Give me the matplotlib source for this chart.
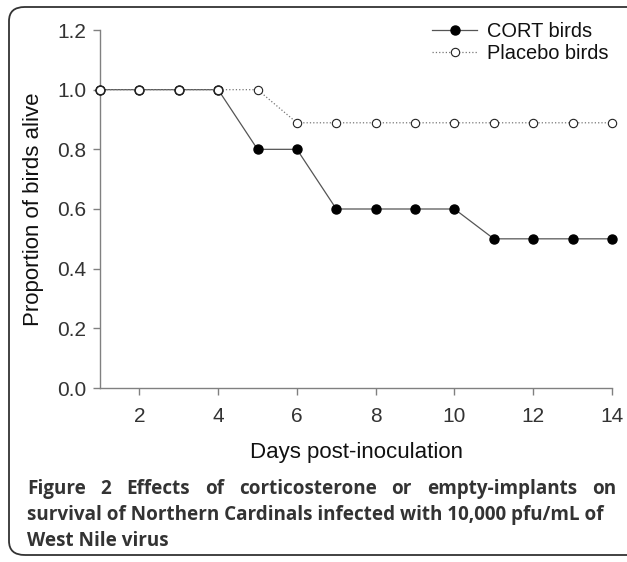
import matplotlib
matplotlib.use("Agg")
import matplotlib.pyplot as plt
from matplotlib.patches import FancyBboxPatch

days = list(range(1, 15))
cort = [1.0, 1.0, 1.0, 1.0, 0.8, 0.8, 0.6, 0.6, 0.6, 0.6, 0.5, 0.5, 0.5, 0.5]
placebo = [1.0, 1.0, 1.0, 1.0, 1.0, 0.889, 0.889, 0.889, 0.889, 0.889, 0.889, 0.889, 0.889, 0.889]
caption_lines = [
    "Figure 2 Effects of corticosterone or empty-implants on",
    "survival of Northern Cardinals infected with 10,000 pfu/mL of",
    "West Nile virus",
]

W, H = 627, 562
fig = plt.figure(figsize=(W / 100, H / 100), dpi=100)

# rounded frame around the figure (right edge runs off the image)
frame = FancyBboxPatch((9 / W, 7 / H), 650 / W, 548 / H,
                       boxstyle="round,pad=0,rounding_size=0.025",
                       transform=fig.transFigure, fill=False,
                       edgecolor="#333333", linewidth=1.3)
fig.patches.append(frame)

ax = fig.add_axes([100 / W, (H - 388) / H, 512 / W, 358 / H])
ax.plot(days, cort, "-", color="#555555", lw=0.9, marker="o", ms=6.5,
        mfc="black", mec="black", label="CORT birds", clip_on=False, zorder=3)
ax.plot(days, placebo, ":", color="#777777", lw=0.9, marker="o", ms=6,
        mfc="white", mec="#222222", mew=0.8, label="Placebo birds", clip_on=False, zorder=4)

ax.set_xlim(1, 14)
ax.set_ylim(0, 1.2)
ax.set_xticks([2, 4, 6, 8, 10, 12, 14])
ax.set_yticks([0, 0.2, 0.4, 0.6, 0.8, 1.0, 1.2])
ax.set_yticklabels(["0.0", "0.2", "0.4", "0.6", "0.8", "1.0", "1.2"])
for s in ["top", "right"]:
    ax.spines[s].set_visible(False)
for s in ["left", "bottom"]:
    ax.spines[s].set_color("#808080")
    ax.spines[s].set_linewidth(1.0)
ax.tick_params(direction="out", length=5, width=1, color="#808080",
               labelsize=15, labelcolor="#333333")
ax.tick_params(axis="y", pad=5)
ax.tick_params(axis="x", pad=9)
for lab in ax.get_xticklabels() + ax.get_yticklabels():
    lab.set_family("Liberation Sans")

ax.set_xlabel("Days post-inoculation", fontsize=16, family="Liberation Sans",
              color="#111111", labelpad=11)
ax.set_ylabel("Proportion of birds alive", fontsize=16, family="Liberation Sans",
              color="#111111", labelpad=9)

ax.legend(loc="upper left", bbox_to_anchor=(432 / W, (H - 22) / H),
          bbox_transform=fig.transFigure, frameon=False, handlelength=2.25,
          prop={"family": "Liberation Sans", "size": 14.4}, labelspacing=0.15,
          handletextpad=0.5, borderaxespad=0, borderpad=0,
          labelcolor="#111111")

# caption, first line justified
fig.canvas.draw()
r = fig.canvas.get_renderer()
x0, x1 = 27, 616
ys = [494, 520, 546]
cap = dict(fontsize=13.6, fontweight="bold", family="Open Sans", color="#333333",
           va="baseline", ha="left", transform=None)
for i, line in enumerate(caption_lines):
    y = H - ys[i]
    if i == 0:
        words = line.split(" ")
        arts = [fig.text(0, y, w, **cap) for w in words]
        widths = [a.get_window_extent(r).width for a in arts]
        gap = (x1 - x0 - sum(widths)) / (len(words) - 1)
        x = x0
        for a, w in zip(arts, widths):
            a.set_x(x)
            x += w + gap
    else:
        fig.text(x0, y, line, **cap)

fig.savefig("out.png", dpi=100)
